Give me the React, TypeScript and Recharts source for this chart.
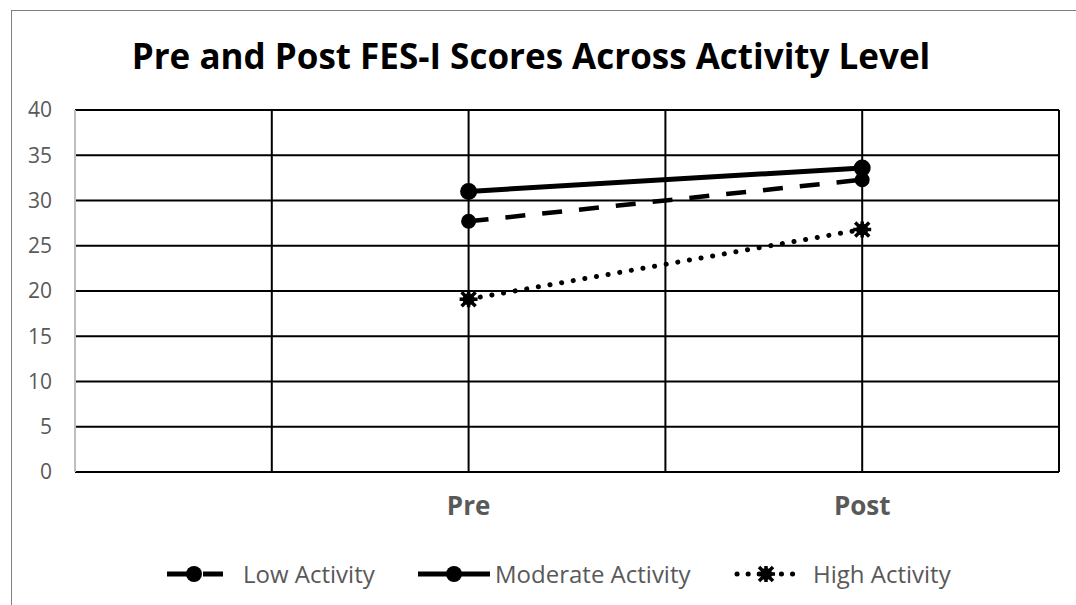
import React from "react";
import { LineChart, Line, XAxis, YAxis, CartesianGrid } from "recharts";

// category slots along the x axis (Excel-style, points sit on tick marks)
const slots = ["", "", "Pre", "", "Post", ""];
const phases = ["Pre", "Post"];

const lowActivity = [27.7, 32.3];
const moderateActivity = [31.0, 33.6];
const highActivity = [19.1, 26.8];

const yTicks = [0, 5, 10, 15, 20, 25, 30, 35, 40];

const data = slots.map((label) => {
  const i = phases.indexOf(label);
  return {
    label,
    low: i >= 0 ? lowActivity[i] : null,
    moderate: i >= 0 ? moderateActivity[i] : null,
    high: i >= 0 ? highActivity[i] : null,
  };
});

const FONT = "'Open Sans', 'Noto Sans', sans-serif";
const GREY = "#595959";

function StarDot(props: any) {
  const { cx, cy } = props;
  if (cx == null || cy == null) return null;
  return (
    <g>
      <circle cx={cx} cy={cy} r={6} fill="#000" />
      <path
        d={`M${cx - 7} ${cy - 7}L${cx + 7} ${cy + 7}M${cx + 7} ${cy - 7}L${cx - 7} ${cy + 7}M${cx} ${cy - 8}L${cx} ${cy + 8}M${cx - 9} ${cy}L${cx + 9} ${cy}`}
        stroke="#000"
        strokeWidth={3.5}
      />
    </g>
  );
}

const legendItems = [
  { label: "Low Activity", dash: "20 16", dot: "circle", left: 165, w: 58, textLeft: 243 },
  { label: "Moderate Activity", dash: undefined, dot: "circle", left: 418, w: 72, textLeft: 495 },
  { label: "High Activity", dash: "0.1 11", dot: "star", left: 734, w: 64, textLeft: 813 },
];

function LegendRow() {
  return (
    <div style={{ position: "absolute", left: 0, top: 559, width: 1076, height: 30 }}>
      {legendItems.map((it) => (
        <React.Fragment key={it.label}>
          <svg width={it.w} height={30} style={{ position: "absolute", left: it.left, top: 0 }}>
            <line
              x1={it.dot === "star" ? 3 : 0}
              y1={15}
              x2={it.dot === "star" ? it.w - 3 : it.w}
              y2={15}
              stroke="#000"
              strokeWidth={5}
              strokeDasharray={it.dash}
              strokeDashoffset={it.dot === "star" ? 0 : -2}
              strokeLinecap={it.dot === "star" ? "round" : "butt"}
            />
            {it.dot === "circle" ? (
              <circle cx={it.w / 2} cy={15} r={8} fill="#000" />
            ) : (
              <StarDot cx={it.w / 2} cy={15} />
            )}
          </svg>
          <span
            style={{
              position: "absolute",
              left: it.textLeft,
              top: 0,
              lineHeight: "30px",
              fontSize: 24,
              color: GREY,
              fontFamily: FONT,
              whiteSpace: "nowrap",
            }}
          >
            {it.label}
          </span>
        </React.Fragment>
      ))}
    </div>
  );
}

export default function App() {
  return (
    <div style={{ position: "absolute", left: 0, top: 0, width: 1076, height: 605, background: "#fff", overflow: "hidden" }}>
      <div
        style={{
          position: "absolute",
          left: 11,
          top: 10,
          width: 1080,
          height: 610,
          border: "1px solid #7f7f7f",
        }}
      />
      <div
        style={{
          position: "absolute",
          top: 32,
          left: 0,
          width: 1062,
          textAlign: "center",
          fontFamily: FONT,
          fontWeight: 700,
          fontSize: 35,
          lineHeight: "48px",
          color: "#000",
        }}
      >
        Pre and Post FES-I Scores Across Activity Level
      </div>
      <LineChart
        width={1076}
        height={605}
        data={data}
        margin={{ top: 110, right: 17, left: 15, bottom: 83 }}
        style={{ position: "absolute", left: 0, top: 0 }}
      >
        <CartesianGrid stroke="#000" strokeWidth={2} />
        <XAxis
          dataKey="label"
          type="category"
          interval={0}
          axisLine={{ stroke: "#000", strokeWidth: 2 }}
          tickLine={false}
          tickSize={0}
          tickMargin={25}
          height={50}
          tick={{ fill: GREY, fontSize: 26, fontWeight: 700, fontFamily: FONT }}
        />
        <YAxis
          domain={[0, 40]}
          ticks={yTicks}
          width={60}
          axisLine={{ stroke: "#bfbfbf", strokeWidth: 2 }}
          tickLine={false}
          tickSize={0}
          tickMargin={23}
          tick={{ fill: GREY, fontSize: 21, fontFamily: FONT }}
        />
        <Line
          dataKey="low"
          name="Low Activity"
          stroke="#000"
          strokeWidth={4.5}
          strokeDasharray="20 17"
          connectNulls
          dot={{ r: 7.5, fill: "#000", stroke: "#000", strokeWidth: 0 }}
          isAnimationActive={false}
        />
        <Line
          dataKey="moderate"
          name="Moderate Activity"
          stroke="#000"
          strokeWidth={5}
          connectNulls
          dot={{ r: 8.5, fill: "#000", stroke: "#000", strokeWidth: 0 }}
          isAnimationActive={false}
        />
        <Line
          dataKey="high"
          name="High Activity"
          stroke="#000"
          strokeWidth={5}
          strokeDasharray="0.1 11.7"
          strokeLinecap="round"
          connectNulls
          dot={<StarDot />}
          isAnimationActive={false}
        />
      </LineChart>
      <LegendRow />
    </div>
  );
}
